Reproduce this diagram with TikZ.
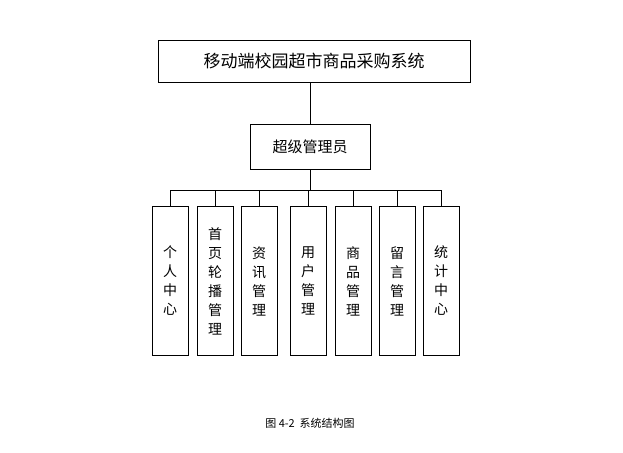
\documentclass[tikz,border=0pt]{standalone}
\usepackage{fontspec}
\newfontfamily\cjk{Noto Sans CJK SC}
\begin{document}
\begin{tikzpicture}[x=1pt,y=-1pt,
  box/.style={draw,thick,fill=white,inner sep=0pt,font=\cjk},
  leaf/.style={box,minimum width=36pt,minimum height=149pt,align=center,font=\cjk\fontsize{14}{19}\selectfont},
  conn/.style={draw,thick}]
\useasboundingbox[fill=white] (0,0) rectangle (623,452);
\node[box,minimum width=312pt,minimum height=42pt,font=\cjk\fontsize{17}{20}\selectfont] (top) at (314,61) {移动端校园超市商品采购系统};
\node[box,minimum width=120pt,minimum height=45pt,font=\cjk\fontsize{15}{18}\selectfont] (adm) at (310,147) {超级管理员};
\node[leaf] (l1) at (170,281) {个\\人\\中\\心};
\node[leaf] (l2) at (215,281) {首\\页\\轮\\播\\管\\理};
\node[leaf] (l3) at (259,281) {资\\讯\\管\\理};
\node[leaf] (l4) at (308,281) {用\\户\\管\\理};
\node[leaf] (l5) at (353,281) {商\\品\\管\\理};
\node[leaf] (l6) at (397,281) {留\\言\\管\\理};
\node[leaf] (l7) at (441,281) {统\\计\\中\\心};
\node[font=\cjk\fontsize{11}{13}\selectfont] (cap) at (310,423) {图 4-2\ \ 系统结构图};
\coordinate (bus) at (310,190);
\draw[conn] (top.south -| adm) -- (adm.north);
\draw[conn] (adm.south) -- (bus);
\draw[conn] (l1.north |- bus) -- (l7.north |- bus);
\foreach \n in {l1,l2,l3,l4,l5,l6,l7} \draw[conn] (\n.north) -- (\n.north |- bus);
\end{tikzpicture}
\end{document}
